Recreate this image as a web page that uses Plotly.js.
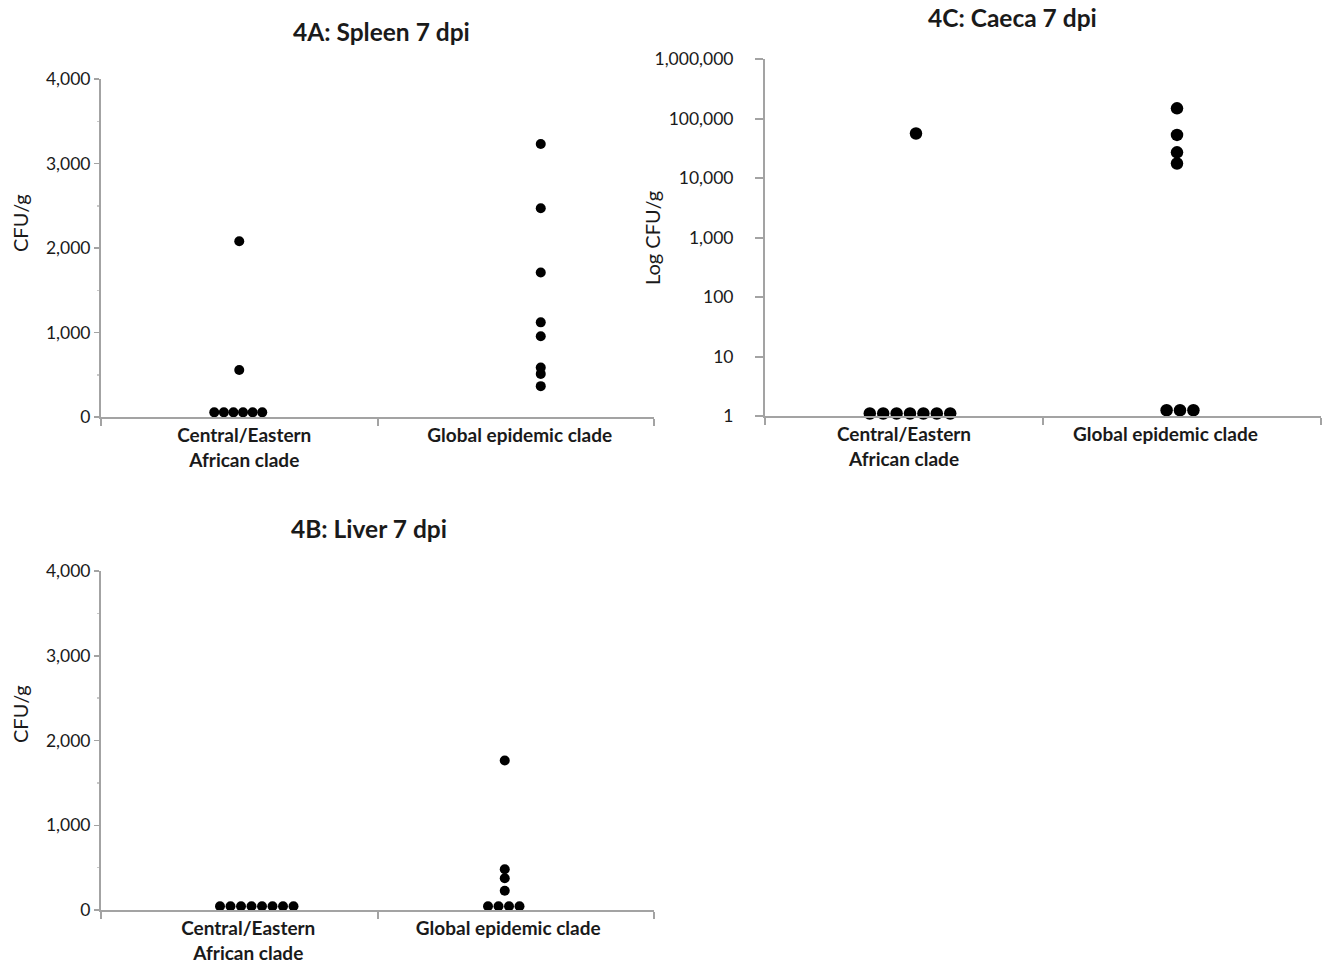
<!DOCTYPE html>
<html>
<head>
<meta charset="utf-8">
<script src="https://cdn.plot.ly/plotly-3.0.1.min.js"></script>
<style>html,body{margin:0;padding:0;background:#fff;}#chart{width:1331px;height:966px;}</style>
</head>
<body>
<div id="chart"></div>
<script>
// ---- data ----
const categories = ['Central/Eastern<br>African clade', 'Global epidemic clade'];
const linearTicks = [0, 1000, 2000, 3000, 4000];
const logTicks = [1, 10, 100, 1000, 10000, 100000, 1000000];
const logTickText = ['1', '10', '100', '1,000', '10,000', '100,000', '1,000,000'];

const spleenCentral = [2080, 556, 55, 55, 55, 55, 55, 55];
const spleenGlobal = [3230, 2470, 1710, 1120, 955, 585, 510, 365];
const liverCentral = [45, 45, 45, 45, 45, 45, 45, 45];
const liverGlobal = [1765, 480, 375, 228, 45, 45, 45, 45];
const caecaCentral = [56000, 1.1, 1.1, 1.1, 1.1, 1.1, 1.1, 1.1];
const caecaGlobal = [148000, 53000, 27000, 17500, 1.25, 1.25, 1.25];

// ---- geometry helpers ----
const W = 1331, H = 966;
const PX = p => p / W;
const PY = p => 1 - p / H;
const FONT = 'Lato, "Open Sans", sans-serif';
const AXIS_COLOR = '#a3a3a3';
const TEXT_COLOR = '#1a1a1a';

// spread tied baseline values horizontally, others in a column
function placeX(values, catIndex, opt) {
  const minV = Math.min(...values);
  const ties = values.filter(v => v === minV).length;
  let k = 0;
  return values.map(v => {
    const center = catIndex + 0.5;
    if (ties > 1 && v === minV) {
      const off = opt.rowShift + (k - (ties - 1) / 2) * opt.step;
      k++;
      return center + off / opt.pxPerUnit;
    }
    return center + opt.colShift / opt.pxPerUnit;
  });
}

function trace(values, catIndex, axisId, opt) {
  return {
    type: 'scatter', mode: 'markers',
    x: placeX(values, catIndex, opt), y: values,
    xaxis: 'x' + axisId, yaxis: 'y' + axisId,
    marker: {color: '#000', size: opt.size},
    cliponaxis: false, showlegend: false, hoverinfo: 'y'
  };
}

const pA = {pxPerUnit: 276.5, size: 10, step: 9.6};
const pB = {pxPerUnit: 276.5, size: 10, step: 10.5};
const pC = {pxPerUnit: 278, size: 12.5, step: 13.4};

const data = [
  trace(spleenCentral, 0, '', Object.assign({}, pA, {colShift: 0, rowShift: -1})),
  trace(spleenGlobal, 1, '', Object.assign({}, pA, {colShift: 25, rowShift: 0})),
  trace(liverCentral, 0, '2', Object.assign({}, pB, {colShift: 0, rowShift: 17.5})),
  trace(liverGlobal, 1, '2', Object.assign({}, pB, {colShift: -11, rowShift: -12})),
  trace(caecaCentral, 0, '3', Object.assign({}, pC, {colShift: 12, rowShift: 6})),
  trace(caecaGlobal, 1, '3', Object.assign({}, pC, {colShift: -5, rowShift: -2}))
];

// labelShift: pixel nudges of the two category labels
function xAxis(left, right, anchor, labelShift) {
  const ppu = (right - left) / 2;
  return {
    domain: [PX(left), PX(right)], range: [0, 2], anchor: anchor,
    tickmode: 'array',
    tickvals: [0.5 + labelShift[0] / ppu, 1.5 + labelShift[1] / ppu],
    ticktext: categories,
    ticks: '', ticklabelstandoff: 0,
    tickfont: {family: FONT, size: 19, color: TEXT_COLOR, weight: 700},
    showline: true, linecolor: AXIS_COLOR, linewidth: 2,
    showgrid: false, zeroline: false, fixedrange: true,
    minor: {tickmode: 'array', tickvals: [0, 1, 2], ticks: 'outside', ticklen: 7,
            tickcolor: AXIS_COLOR, tickwidth: 2, showgrid: false}
  };
}
function yLinear(bottom, top, anchor) {
  return {
    domain: [PY(bottom), PY(top)], range: [0, 4000], anchor: anchor,
    tickmode: 'array', tickvals: linearTicks, tickformat: ',',
    ticks: 'outside', ticklen: 5, tickcolor: AXIS_COLOR, tickwidth: 1.5,
    tickfont: {family: FONT, size: 17.5, color: TEXT_COLOR},
    showline: true, linecolor: AXIS_COLOR, linewidth: 2,
    showgrid: false, zeroline: false, fixedrange: true,
    minor: {dtick: 500, ticks: 'outside', ticklen: 2, tickcolor: '#c8c8c8', showgrid: false}
  };
}

function ann(text, x, y, size, bold, angle) {
  return {text: text, x: PX(x), y: PY(y), xref: 'paper', yref: 'paper',
          xanchor: 'center', yanchor: 'middle', textangle: angle || 0, showarrow: false,
          font: {family: FONT, size: size, weight: bold ? 700 : 400, color: TEXT_COLOR}};
}

const layout = {
  width: W, height: H,
  margin: {l: 0, r: 0, t: 0, b: 0},
  paper_bgcolor: '#fff', plot_bgcolor: '#fff',
  font: {family: FONT, color: TEXT_COLOR},
  xaxis: xAxis(101, 654, 'y', [5, 4]),
  yaxis: yLinear(417, 79, 'x'),
  xaxis2: xAxis(101, 654, 'y2', [9, -7.5]),
  yaxis2: yLinear(910, 571, 'x2'),
  xaxis3: xAxis(765, 1321, 'y3', [0, -16.5]),
  yaxis3: {
    domain: [PY(416), PY(59)], type: 'log', range: [0, 6], anchor: 'x3',
    tickmode: 'array', tickvals: logTicks, ticktext: logTickText,
    ticks: 'outside', ticklen: 8, tickcolor: AXIS_COLOR, tickwidth: 2,
    ticklabelstandoff: 18,
    tickfont: {family: FONT, size: 17.5, color: TEXT_COLOR},
    showline: true, linecolor: AXIS_COLOR, linewidth: 2,
    showgrid: false, zeroline: false, fixedrange: true
  },
  annotations: [
    ann('4A: Spleen 7 dpi', 381, 32, 24.5, true),
    ann('4B: Liver 7 dpi', 369, 528, 24.5, true),
    ann('4C: Caeca 7 dpi', 1012, 17, 24.5, true),
    ann('CFU/g', 20, 223, 20, false, -90),
    ann('CFU/g', 20, 714, 20, false, -90),
    ann('Log CFU/g', 652, 238, 20, false, -90)
  ]
};

Plotly.newPlot('chart', data, layout, {displayModeBar: false, staticPlot: true});
</script>
</body>
</html>
